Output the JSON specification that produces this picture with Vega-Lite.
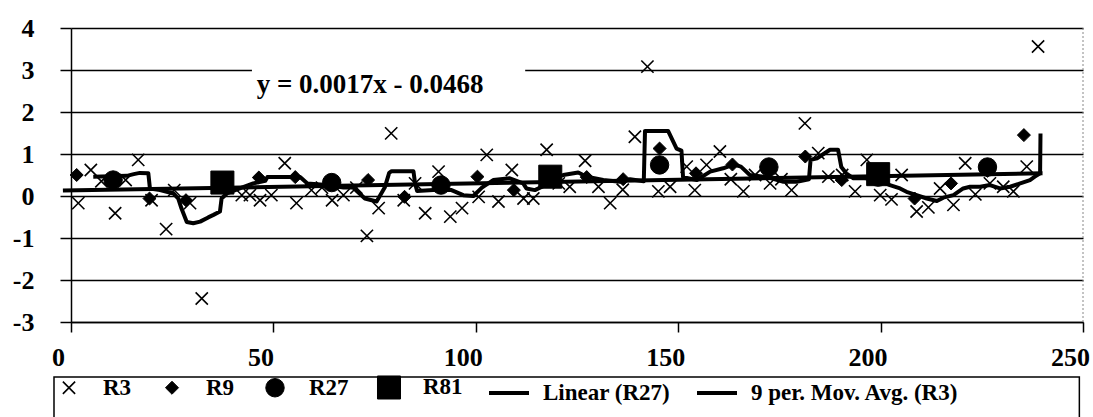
{
  "$schema": "https://vega.github.io/schema/vega-lite/v6.json",
  "width": 1012,
  "height": 294,
  "autosize": {"type": "none"},
  "padding": {"left": 71, "top": 28, "right": 10, "bottom": 95},
  "background": "white",
  "config": {"view": {"stroke": null}, "font": "Liberation Serif"},
  "datasets": {
    "pts": [
      {"x": 1.8, "y": -0.17, "s": "R3"}, {"x": 4.9, "y": 0.62, "s": "R3"}, {"x": 7.5, "y": 0.35, "s": "R3"}, {"x": 10.9, "y": -0.41, "s": "R3"},
      {"x": 13.5, "y": 0.38, "s": "R3"}, {"x": 16.6, "y": 0.86, "s": "R3"}, {"x": 19.9, "y": -0.1, "s": "R3"}, {"x": 23.5, "y": -0.79, "s": "R3"},
      {"x": 25.5, "y": 0.14, "s": "R3"}, {"x": 29.4, "y": -0.17, "s": "R3"}, {"x": 32.3, "y": -2.44, "s": "R3"}, {"x": 38.0, "y": 0.3, "s": "R3"},
      {"x": 42.2, "y": 0.02, "s": "R3"}, {"x": 44.2, "y": 0.02, "s": "R3"}, {"x": 46.7, "y": -0.1, "s": "R3"}, {"x": 49.5, "y": 0.02, "s": "R3"},
      {"x": 52.8, "y": 0.78, "s": "R3"}, {"x": 55.7, "y": -0.17, "s": "R3"}, {"x": 59.4, "y": 0.14, "s": "R3"}, {"x": 62.0, "y": 0.2, "s": "R3"},
      {"x": 64.5, "y": -0.1, "s": "R3"}, {"x": 67.3, "y": 0.02, "s": "R3"}, {"x": 70.5, "y": 0.2, "s": "R3"}, {"x": 73.1, "y": -0.95, "s": "R3"},
      {"x": 76.0, "y": -0.29, "s": "R3"}, {"x": 79.1, "y": 1.49, "s": "R3"}, {"x": 82.2, "y": -0.1, "s": "R3"}, {"x": 85.0, "y": 0.3, "s": "R3"},
      {"x": 87.5, "y": -0.41, "s": "R3"}, {"x": 90.8, "y": 0.58, "s": "R3"}, {"x": 93.7, "y": -0.49, "s": "R3"}, {"x": 96.6, "y": -0.29, "s": "R3"},
      {"x": 100.7, "y": -0.02, "s": "R3"}, {"x": 102.7, "y": 0.98, "s": "R3"}, {"x": 105.6, "y": -0.13, "s": "R3"}, {"x": 108.9, "y": 0.62, "s": "R3"},
      {"x": 111.8, "y": -0.06, "s": "R3"}, {"x": 114.2, "y": -0.06, "s": "R3"}, {"x": 117.5, "y": 1.1, "s": "R3"}, {"x": 120.5, "y": 0.3, "s": "R3"},
      {"x": 123.2, "y": 0.22, "s": "R3"}, {"x": 127.0, "y": 0.84, "s": "R3"}, {"x": 130.3, "y": 0.22, "s": "R3"}, {"x": 133.2, "y": -0.17, "s": "R3"},
      {"x": 136.3, "y": 0.15, "s": "R3"}, {"x": 139.3, "y": 1.41, "s": "R3"}, {"x": 142.4, "y": 3.08, "s": "R3"}, {"x": 145.1, "y": 0.11, "s": "R3"},
      {"x": 148.0, "y": 0.22, "s": "R3"}, {"x": 152.1, "y": 0.7, "s": "R3"}, {"x": 154.1, "y": 0.14, "s": "R3"}, {"x": 157.0, "y": 0.74, "s": "R3"},
      {"x": 160.3, "y": 1.06, "s": "R3"}, {"x": 163.0, "y": 0.4, "s": "R3"}, {"x": 166.1, "y": 0.11, "s": "R3"}, {"x": 169.0, "y": 0.5, "s": "R3"},
      {"x": 172.7, "y": 0.3, "s": "R3"}, {"x": 175.5, "y": 0.4, "s": "R3"}, {"x": 178.0, "y": 0.14, "s": "R3"}, {"x": 181.3, "y": 1.73, "s": "R3"},
      {"x": 184.6, "y": 1.02, "s": "R3"}, {"x": 187.1, "y": 0.46, "s": "R3"}, {"x": 190.5, "y": 0.5, "s": "R3"}, {"x": 193.7, "y": 0.11, "s": "R3"},
      {"x": 196.6, "y": 0.86, "s": "R3"}, {"x": 199.9, "y": 0.02, "s": "R3"}, {"x": 202.7, "y": -0.08, "s": "R3"}, {"x": 205.2, "y": 0.5, "s": "R3"},
      {"x": 208.9, "y": -0.37, "s": "R3"}, {"x": 211.8, "y": -0.27, "s": "R3"}, {"x": 214.7, "y": 0.18, "s": "R3"}, {"x": 218.0, "y": -0.21, "s": "R3"},
      {"x": 220.9, "y": 0.78, "s": "R3"}, {"x": 223.4, "y": 0.04, "s": "R3"}, {"x": 227.0, "y": 0.3, "s": "R3"}, {"x": 230.3, "y": 0.22, "s": "R3"},
      {"x": 232.8, "y": 0.11, "s": "R3"}, {"x": 236.1, "y": 0.7, "s": "R3"}, {"x": 238.9, "y": 3.56, "s": "R3"},
      {"x": 1.4, "y": 0.5, "s": "R9"}, {"x": 10.4, "y": 0.35, "s": "R9"}, {"x": 19.4, "y": -0.06, "s": "R9"}, {"x": 28.4, "y": -0.1, "s": "R9"},
      {"x": 37.4, "y": 0.3, "s": "R9"}, {"x": 46.4, "y": 0.44, "s": "R9"}, {"x": 55.4, "y": 0.45, "s": "R9"}, {"x": 64.4, "y": 0.3, "s": "R9"},
      {"x": 73.4, "y": 0.38, "s": "R9"}, {"x": 82.4, "y": -0.02, "s": "R9"}, {"x": 91.4, "y": 0.3, "s": "R9"}, {"x": 100.4, "y": 0.46, "s": "R9"},
      {"x": 109.4, "y": 0.14, "s": "R9"}, {"x": 118.4, "y": 0.4, "s": "R9"}, {"x": 127.4, "y": 0.45, "s": "R9"}, {"x": 136.4, "y": 0.4, "s": "R9"},
      {"x": 145.4, "y": 1.13, "s": "R9"}, {"x": 154.4, "y": 0.54, "s": "R9"}, {"x": 163.4, "y": 0.75, "s": "R9"}, {"x": 172.4, "y": 0.6, "s": "R9"},
      {"x": 181.4, "y": 0.94, "s": "R9"}, {"x": 190.4, "y": 0.38, "s": "R9"}, {"x": 199.4, "y": 0.45, "s": "R9"}, {"x": 208.4, "y": -0.06, "s": "R9"},
      {"x": 217.4, "y": 0.3, "s": "R9"}, {"x": 226.4, "y": 0.6, "s": "R9"}, {"x": 235.4, "y": 1.45, "s": "R9"},
      {"x": 10.4, "y": 0.38, "s": "R27"}, {"x": 37.4, "y": 0.3, "s": "R27"}, {"x": 64.4, "y": 0.32, "s": "R27"}, {"x": 91.4, "y": 0.26, "s": "R27"},
      {"x": 118.4, "y": 0.42, "s": "R27"}, {"x": 145.4, "y": 0.74, "s": "R27"}, {"x": 172.4, "y": 0.69, "s": "R27"}, {"x": 199.4, "y": 0.45, "s": "R27"},
      {"x": 226.4, "y": 0.69, "s": "R27"},
      {"x": 37.4, "y": 0.32, "s": "R81"}, {"x": 118.4, "y": 0.46, "s": "R81"}, {"x": 199.4, "y": 0.52, "s": "R81"}
    ],
    "ma": [
      {"x": 5.5, "y": 0.46}, {"x": 13.8, "y": 0.48}, {"x": 15.5, "y": 0.52}, {"x": 17.0, "y": 0.55}, {"x": 19.1, "y": 0.54},
      {"x": 19.5, "y": 0.18}, {"x": 22.0, "y": 0.14}, {"x": 25.3, "y": 0.06}, {"x": 26.5, "y": -0.06}, {"x": 27.3, "y": -0.3},
      {"x": 28.6, "y": -0.62}, {"x": 30.2, "y": -0.65}, {"x": 31.9, "y": -0.61}, {"x": 33.9, "y": -0.51}, {"x": 35.2, "y": -0.45},
      {"x": 36.8, "y": -0.37}, {"x": 37.2, "y": -0.06}, {"x": 38.5, "y": 0.06}, {"x": 41.7, "y": 0.18}, {"x": 45.0, "y": 0.3},
      {"x": 48.0, "y": 0.36}, {"x": 48.5, "y": 0.45}, {"x": 56.6, "y": 0.45}, {"x": 58.4, "y": 0.3}, {"x": 63.2, "y": 0.26},
      {"x": 67.3, "y": 0.2}, {"x": 69.7, "y": 0.2}, {"x": 70.6, "y": 0.12}, {"x": 72.6, "y": -0.06}, {"x": 75.5, "y": -0.13},
      {"x": 77.5, "y": 0.2}, {"x": 78.6, "y": 0.55}, {"x": 79.2, "y": 0.59}, {"x": 84.6, "y": 0.59}, {"x": 85.0, "y": 0.3},
      {"x": 85.5, "y": 0.12}, {"x": 89.5, "y": 0.14}, {"x": 94.0, "y": 0.14}, {"x": 96.9, "y": 0.02}, {"x": 99.4, "y": 0.0},
      {"x": 101.5, "y": 0.2}, {"x": 104.3, "y": 0.38}, {"x": 108.4, "y": 0.42}, {"x": 111.7, "y": 0.3}, {"x": 112.5, "y": 0.18},
      {"x": 114.6, "y": 0.14}, {"x": 117.0, "y": 0.25}, {"x": 119.0, "y": 0.4}, {"x": 121.6, "y": 0.5}, {"x": 125.3, "y": 0.56},
      {"x": 127.4, "y": 0.46}, {"x": 131.5, "y": 0.38}, {"x": 135.6, "y": 0.34}, {"x": 138.1, "y": 0.4}, {"x": 141.5, "y": 0.35},
      {"x": 141.8, "y": 1.55}, {"x": 147.5, "y": 1.55}, {"x": 149.6, "y": 1.13}, {"x": 150.8, "y": 1.08}, {"x": 151.2, "y": 0.45},
      {"x": 154.6, "y": 0.38}, {"x": 157.9, "y": 0.58}, {"x": 161.1, "y": 0.66}, {"x": 163.7, "y": 0.75}, {"x": 165.5, "y": 0.7},
      {"x": 167.7, "y": 0.5}, {"x": 172.0, "y": 0.45}, {"x": 176.0, "y": 0.34}, {"x": 179.3, "y": 0.34}, {"x": 182.3, "y": 0.4},
      {"x": 182.7, "y": 0.86}, {"x": 184.3, "y": 0.9}, {"x": 187.5, "y": 1.1}, {"x": 189.5, "y": 1.1}, {"x": 190.3, "y": 0.69},
      {"x": 191.5, "y": 0.54}, {"x": 193.3, "y": 0.42}, {"x": 196.0, "y": 0.42}, {"x": 199.0, "y": 0.4}, {"x": 202.3, "y": 0.26},
      {"x": 204.8, "y": 0.18}, {"x": 206.4, "y": 0.1}, {"x": 208.9, "y": 0.02}, {"x": 211.4, "y": -0.06}, {"x": 213.9, "y": -0.12},
      {"x": 215.5, "y": -0.04}, {"x": 218.0, "y": 0.02}, {"x": 220.4, "y": 0.18}, {"x": 222.1, "y": 0.22}, {"x": 224.6, "y": 0.22},
      {"x": 227.0, "y": 0.26}, {"x": 229.5, "y": 0.18}, {"x": 232.0, "y": 0.22}, {"x": 234.5, "y": 0.3}, {"x": 236.9, "y": 0.38},
      {"x": 238.1, "y": 0.46}, {"x": 239.4, "y": 0.54}, {"x": 239.5, "y": 1.49}
    ],
    "lin": [{"x": -2, "y": 0.13}, {"x": 240, "y": 0.54}]
  },
  "layer": [
    {
      "data": {"values": [{"k": 1}]},
      "mark": {"type": "rect", "fill": "white"},
      "encoding": {
        "x": {"datum": 44.7, "type": "quantitative", "scale": {"domain": [0, 250], "nice": false, "zero": false},
          "axis": {
            "title": null, "values": [0, 50, 100, 150, 200, 250], "grid": false,
            "domainColor": "black", "domainWidth": 1.5, "tickColor": "black", "tickWidth": 1.5, "tickSize": 10,
            "labelFont": "Liberation Serif", "labelFontWeight": "bold", "labelFontSize": 26, "labelColor": "black",
            "labelPadding": 12, "labelOffset": -13, "labelFlush": false, "labelOverlap": false
          }},
        "x2": {"datum": 112.2},
        "y": {"datum": 2.3, "type": "quantitative", "scale": {"domain": [-3, 4], "nice": false, "zero": false},
          "axis": {
            "title": null, "values": [-3, -2, -1, 0, 1, 2, 3, 4], "grid": true, "gridColor": "black", "gridWidth": 1.5, "gridOpacity": 1,
            "domainColor": "black", "domainWidth": 1.5, "tickColor": "black", "tickWidth": 1.5, "tickSize": 11,
            "labelFont": "Liberation Serif", "labelFontWeight": "bold", "labelFontSize": 26, "labelColor": "black",
            "labelPadding": 26, "labelFlush": false, "labelOverlap": false,
            "labelExpr": "datum.value < 0 ? '-' + abs(datum.value) : '' + datum.value"
          }},
        "y2": {"datum": 3.4}
      }
    },
    {
      "data": {"values": [{"label": "y = 0.0017x - 0.0468"}]},
      "mark": {"type": "text", "font": "Liberation Serif", "fontWeight": "bold", "fontSize": 27, "color": "black", "align": "center", "baseline": "middle"},
      "encoding": {"x": {"datum": 73.9, "type": "quantitative"}, "y": {"datum": 2.64, "type": "quantitative"}, "text": {"field": "label", "type": "nominal"}}
    },
    {
      "data": {"values": [{"k": 1}]},
      "mark": {"type": "rule", "color": "#888888", "strokeWidth": 1, "strokeDash": [2, 2]},
      "encoding": {"x": {"datum": 250, "type": "quantitative"}}
    },
    {
      "data": {"values": [{"k": 1}]},
      "mark": {"type": "rect", "filled": false, "stroke": "black", "strokeWidth": 1.5, "clip": false},
      "encoding": {"x": {"datum": -4.2, "type": "quantitative"}, "x2": {"datum": 249.1}, "y": {"datum": -4.31, "type": "quantitative"}, "y2": {"datum": -6.5}}
    },
    {
      "data": {"name": "pts"},
      "mark": {"type": "point", "filled": true, "fill": "black", "stroke": "black", "opacity": 1},
      "encoding": {
        "x": {"field": "x", "type": "quantitative"},
        "y": {"field": "y", "type": "quantitative"},
        "shape": {
          "field": "s", "type": "nominal",
          "scale": {"domain": ["R3", "R9", "R27", "R81", "Linear (R27)", "9 per. Mov. Avg. (R3)"], "range": ["M-1,-1L1,1M-1,1L1,-1", "diamond", "circle", "square", "stroke", "stroke"]},
          "legend": {
            "title": null, "orient": "none", "legendX": -29, "legendY": 338, "direction": "horizontal", "columns": 6,
            "columnPadding": 18, "labelOffset": 12, "strokeColor": null, "padding": 5,
            "labelFont": "Liberation Serif", "labelFontWeight": "bold", "labelFontSize": 23, "labelColor": "black", "labelLimit": 400,
            "symbolFillColor": "black", "symbolStrokeColor": "black", "symbolOpacity": 1
          }
        },
        "size": {
          "field": "s", "type": "nominal",
          "scale": {"type": "ordinal", "domain": ["R3", "R9", "R27", "R81", "Linear (R27)", "9 per. Mov. Avg. (R3)"], "range": [150, 170, 340, 530, 1600, 1600]}
        },
        "strokeWidth": {
          "field": "s", "type": "nominal",
          "scale": {"type": "ordinal", "domain": ["R3", "R9", "R27", "R81", "Linear (R27)", "9 per. Mov. Avg. (R3)"], "range": [1.6, 1, 1, 1, 4, 4]}
        }
      }
    },
    {
      "data": {"name": "lin"},
      "mark": {"type": "line", "color": "black", "strokeWidth": 4},
      "encoding": {"x": {"field": "x", "type": "quantitative"}, "y": {"field": "y", "type": "quantitative"}}
    },
    {
      "data": {"name": "ma"},
      "mark": {"type": "line", "color": "black", "strokeWidth": 4, "strokeJoin": "round"},
      "encoding": {"x": {"field": "x", "type": "quantitative"}, "y": {"field": "y", "type": "quantitative"}}
    }
  ]
}
